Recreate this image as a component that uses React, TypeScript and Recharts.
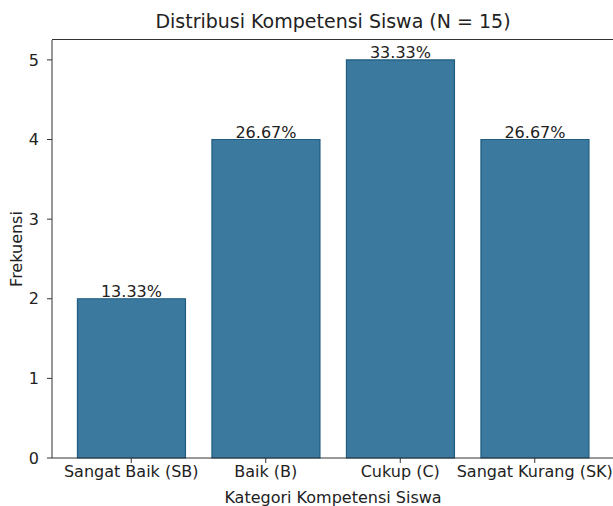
import { BarChart, Bar, XAxis, YAxis, LabelList } from 'recharts';

const categories = ['Sangat Baik (SB)', 'Baik (B)', 'Cukup (C)', 'Sangat Kurang (SK)'];
const counts = [2, 4, 5, 4];
const percentLabels = ['13.33%', '26.67%', '33.33%', '26.67%'];
const yTicks = [0, 1, 2, 3, 4, 5];

const data = categories.map((name, i) => ({ name, value: counts[i], pct: percentLabels[i] }));

const font = '"DejaVu Sans", sans-serif';

export default function App() {
  return (
    <div style={{ position: 'absolute', left: 0, top: 0, width: 613, height: 506, overflow: 'hidden', background: '#fff', fontFamily: font }}>
      <div style={{ position: 'absolute', left: 0, width: 666, top: 10, textAlign: 'center', fontSize: 19, color: '#222' }}>
        Distribusi Kompetensi Siswa (N = 15)
      </div>
      <BarChart
        width={620}
        height={506}
        data={data}
        margin={{ top: 40, right: 6, left: 0, bottom: 0 }}
        barCategoryGap="10%"
      >
        <XAxis
          dataKey="name"
          height={48}
          padding={{ left: 12, right: 12 }}
          stroke="#333"
          tick={{ fill: '#222', fontSize: 16, fontFamily: font }}
          tickSize={5}
          tickMargin={3}
          interval={0}
          label={{ value: 'Kategori Kompetensi Siswa', position: 'insideBottom', offset: 3, fill: '#222', fontSize: 16, fontFamily: font }}
        />
        <YAxis
          domain={[0, 5.25]}
          ticks={yTicks}
          width={52}
          stroke="#333"
          tick={{ fill: '#222', fontSize: 16, fontFamily: font }}
          tickSize={5}
          tickMargin={8}
          label={{ value: 'Frekuensi', angle: -90, position: 'insideLeft', offset: 16, fill: '#222', fontSize: 16, fontFamily: font, style: { textAnchor: 'middle' } }}
        />
        <Bar dataKey="value" fill="#3b7a9e" stroke="#1d5b80" strokeWidth={1.2} isAnimationActive={false}>
          <LabelList dataKey="pct" position="top" offset={2} fill="#222" fontSize={16} fontFamily={font} />
        </Bar>
      </BarChart>
      <div style={{ position: 'absolute', left: 52, top: 39, width: 600, height: 0, borderTop: '1px solid #333' }} />
    </div>
  );
}
